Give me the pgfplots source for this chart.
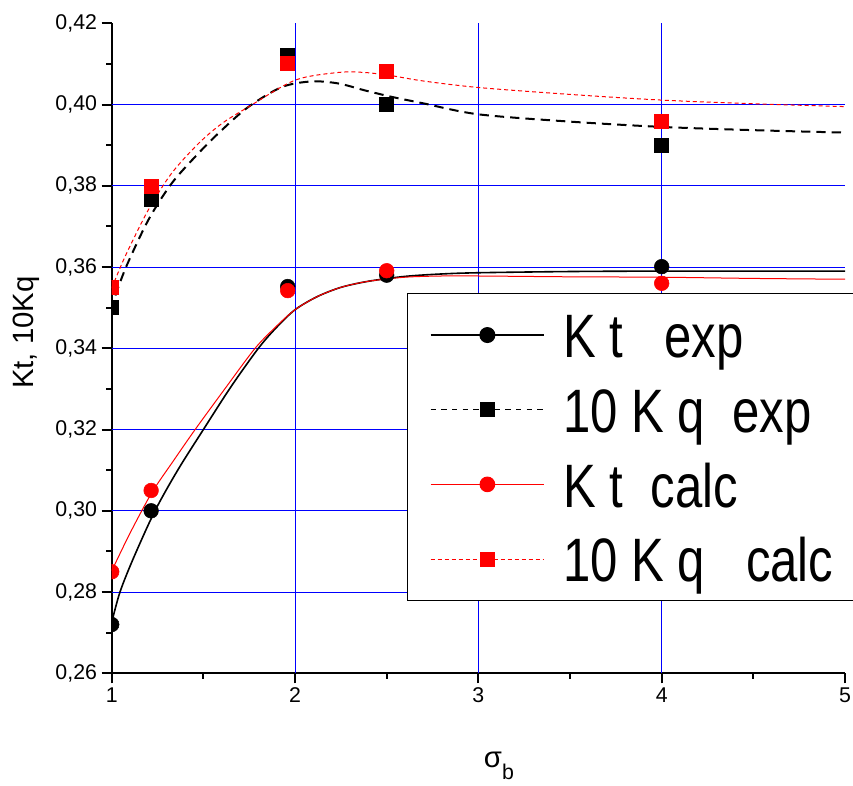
\documentclass[border=0pt]{standalone}
\usepackage{fontspec}
\setmainfont{Liberation Sans}
\usepackage{graphicx}
\usepackage{pgfplots}
\pgfplotsset{compat=1.18}
\begin{document}
\begin{tikzpicture}
\begin{axis}[
  at={(0pt,0pt)}, anchor=south west,
  scale only axis, width=550pt, height=487.5pt,
  xmin=1, xmax=5, ymin=0.26, ymax=0.42,
  axis x line=bottom, axis y line=left,
  axis line style={-, line width=1.5pt},
  xtick={1,2,3,4,5},
  ytick={0.26,0.28,0.30,0.32,0.34,0.36,0.38,0.40,0.42},
  minor x tick num=1, minor y tick num=1,
  tick align=outside, major tick length=7.5pt, minor tick length=4pt,
  tick style={black, line width=1.5pt},
  extra x ticks={2,3,4}, extra x tick labels={},
  extra y ticks={0.28,0.30,0.32,0.34,0.36,0.38,0.40}, extra y tick labels={},
  extra tick style={grid=major, major tick length=0pt},
  major grid style={blue, line width=0.75pt},
  /pgf/number format/assume math mode=true,
  yticklabel style={/pgf/number format/.cd, fixed, fixed zerofill, precision=2, use comma},
  ticklabel style={font=\fontsize{16}{19}\selectfont},
  every axis y label/.style={at={(axis description cs:-0.1164,0.524)}, rotate=90, anchor=center},
  every axis x label/.style={at={(axis description cs:0.528,-0.1457)}, anchor=base},
  label style={font=\fontsize{22}{26}\selectfont},
  ylabel={Kt, 10Kq},
  xlabel={σ\raisebox{-9pt}{\fontsize{16}{16}\selectfont b}},
  clip marker paths=true,
  legend image code/.code={\draw[mark repeat=2,mark phase=2,#1] plot coordinates {(0pt,0pt) (42.5pt,0pt) (85pt,0pt)};},
  legend style={at={(0.4027,0.5846)}, anchor=north west, draw=black, line width=0.6pt, fill=white,
    font=\fontsize{46}{46}\selectfont, inner xsep=17pt, inner ysep=4pt, row sep=2pt,
    nodes={inner sep=0pt, text height=44pt, text depth=10pt},
    /tikz/every odd column/.append style={column sep=14pt}},
  legend cell align=left,
]
% fitted curves
\addplot[black, line width=1.2pt, smooth, forget plot] coordinates {
 (1,0.2725) (1.045,0.28) (1.12,0.2885) (1.236,0.30) (1.36,0.3100) (1.5,0.32)
 (1.65,0.3305) (1.8,0.34) (1.9,0.3452) (2,0.3495) (2.12,0.3527) (2.25,0.355)
 (2.4,0.3565) (2.6,0.3577) (2.8,0.3583) (3,0.3586) (3.5,0.3589) (4,0.359) (5,0.359)};
\addplot[black, line width=1.5pt, dash pattern=on 7pt off 4.5pt, smooth, forget plot] coordinates {
 (1.02,0.353) (1.08,0.3602) (1.2,0.3716) (1.327,0.3806) (1.473,0.388) (1.6,0.3937)
 (1.745,0.3994) (1.927,0.4043) (2.09,0.4057) (2.236,0.4052) (2.38,0.4035) (2.527,0.4019)
 (2.7,0.4003) (3,0.3976) (3.5,0.3958) (4,0.3945) (4.5,0.3937) (5,0.3931)};
\addplot[red, line width=0.75pt, smooth, forget plot] coordinates {
 (1,0.2852) (1.1,0.2945) (1.218,0.3044) (1.335,0.3122) (1.455,0.32) (1.62,0.3302)
 (1.782,0.34) (1.9,0.3455) (2,0.3495) (2.12,0.3527) (2.25,0.355) (2.4,0.3565)
 (2.6,0.3575) (2.8,0.3578) (3,0.3578) (3.5,0.3576) (4,0.3575) (4.5,0.3572) (5,0.357)};
\addplot[red, line width=0.75pt, dash pattern=on 3pt off 2.25pt, smooth, forget plot] coordinates {
 (1,0.3548) (1.073,0.3626) (1.2,0.3741) (1.327,0.3831) (1.473,0.3904) (1.6,0.3953)
 (1.745,0.3994) (2,0.406) (2.236,0.4079) (2.38,0.4079) (2.527,0.4071) (2.7,0.4058)
 (3,0.4042) (3.5,0.4025) (4,0.4011) (4.5,0.4002) (5,0.3995)};
% measured / calculated points
\addplot[only marks, mark=*, mark size=5.5pt, black, forget plot] coordinates {
 (1,0.272) (1.215,0.300) (1.96,0.3552) (2.5,0.358) (4,0.3601)};
\addplot[only marks, mark=square*, mark size=5.25pt, black, forget plot] coordinates {
 (1,0.3502) (1.215,0.3767) (1.96,0.4121) (2.5,0.4001) (4,0.390)};
\addplot[only marks, mark=*, mark size=5.5pt, red, forget plot] coordinates {
 (1,0.285) (1.215,0.305) (1.96,0.3542) (2.5,0.3591) (4,0.356)};
\addplot[only marks, mark=square*, mark size=5.25pt, red, forget plot] coordinates {
 (1,0.3551) (1.215,0.380) (1.96,0.4101) (2.5,0.4081) (4,0.396)};
\addlegendimage{black, line width=1pt, solid, mark=*, mark size=5.5pt}
\addlegendentry{\scalebox{0.8}[1]{K t~~ exp}}
\addlegendimage{black, line width=1pt, dash pattern=on 4pt off 4pt, mark=square*, mark size=5.25pt, mark options={solid}}
\addlegendentry{\scalebox{0.8}[1]{10 K q~ exp}}
\addlegendimage{red, line width=0.75pt, solid, mark=*, mark size=5.5pt}
\addlegendentry{\scalebox{0.8}[1]{K t~ calc}}
\addlegendimage{red, line width=0.75pt, dash pattern=on 3pt off 2.25pt, mark=square*, mark size=5.25pt, mark options={solid}}
\addlegendentry{\scalebox{0.8}[1]{10 K q~~ calc}}
\end{axis}
\pgfresetboundingbox
\path (-83.8pt,-83.8pt) rectangle (556pt,505pt);
\end{tikzpicture}
\end{document}
